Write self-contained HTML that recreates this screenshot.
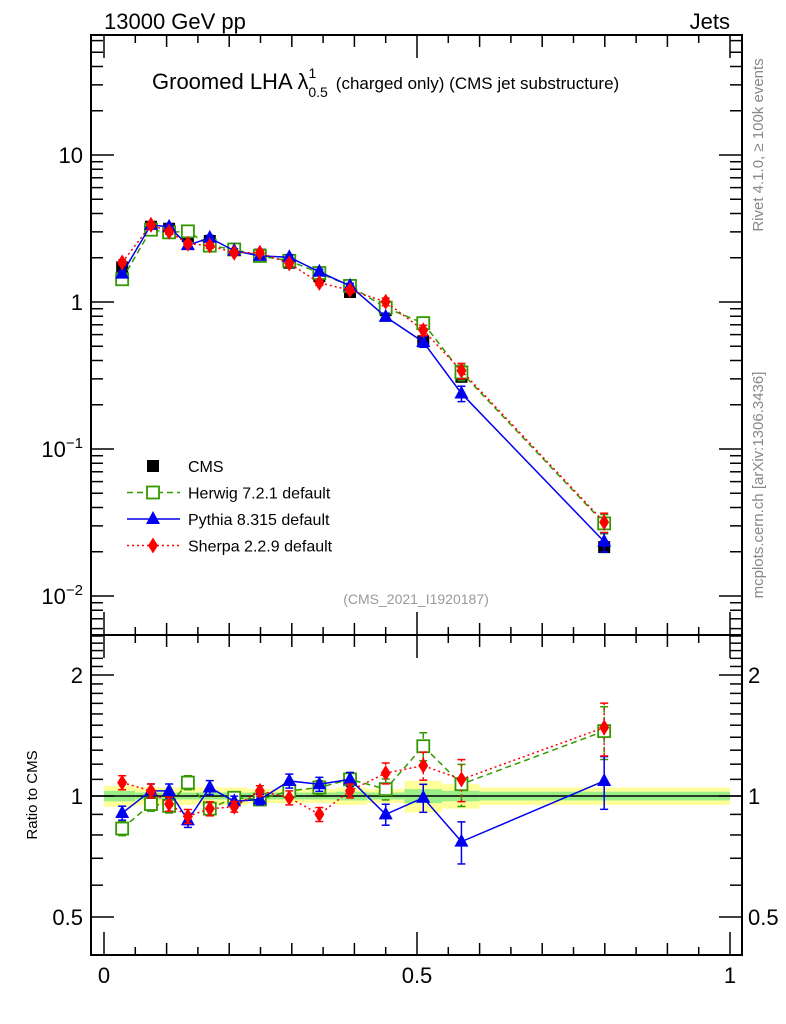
<!DOCTYPE html>
<html><head><meta charset="utf-8"><style>
body{margin:0;background:#fff;}
svg{display:block;font-family:"Liberation Sans",sans-serif;}
</style></head><body>
<svg id="c" width="786" height="1024" viewBox="0 0 786 1024" xmlns="http://www.w3.org/2000/svg"></svg>
<script>
const xCenters=[0.029,0.075,0.104,0.134,0.169,0.208,0.249,0.296,0.344,0.393,0.450,0.510,0.571,0.799];
const binEdges=[0.0,0.05,0.09,0.12,0.15,0.19,0.23,0.27,0.32,0.37,0.42,0.48,0.54,0.60,1.0];
const cmsVals=[1.72,3.25,3.15,2.8,2.6,2.3,2.1,1.85,1.5,1.17,0.88,0.54,0.31,0.0215];
const cmsBandIn=[0.03,0.02,0.02,0.02,0.02,0.02,0.02,0.02,0.02,0.025,0.02,0.04,0.03,0.025];
const cmsBandOut=[0.06,0.05,0.05,0.05,0.05,0.05,0.04,0.04,0.04,0.05,0.04,0.09,0.07,0.05];
const herwigRatio=[0.83,0.955,0.945,1.08,0.93,0.99,0.98,1.03,1.05,1.10,1.04,1.33,1.07,1.45];
const pythiaRatio=[0.907,1.03,1.03,0.87,1.05,0.97,0.98,1.09,1.07,1.10,0.90,0.99,0.77,1.09];
const sherpaRatio=[1.08,1.03,0.955,0.89,0.93,0.94,1.03,0.99,0.90,1.03,1.14,1.19,1.10,1.48];
const mcRelErr=[0.04,0.04,0.04,0.04,0.04,0.03,0.03,0.04,0.04,0.04,0.06,0.08,0.12,0.15];
const mainTicks=[0.01,0.1,1,10];
const ratioTicks=[0.5,1,2];
const xTicks=[0,0.5,1];

const svg=document.getElementById('c');
const NS='http://www.w3.org/2000/svg';
function mk(tag,attrs,parent){const e=document.createElementNS(NS,tag);for(const k in attrs)e.setAttribute(k,attrs[k]);(parent||svg).appendChild(e);return e;}
const L=91,R=742,T=35,M=635,B=955;
const X=v=>104+v*626;
const Y=v=>302-147*Math.log10(v);
const YR=v=>796-402*Math.log10(v);

const bandG=mk('g',{});


for(let i=0;i<cmsVals.length;i++){
  const x0=X(binEdges[i]),x1=X(binEdges[i+1]);
  mk('rect',{x:x0,y:YR(1+cmsBandOut[i]),width:x1-x0,height:YR(1-cmsBandOut[i])-YR(1+cmsBandOut[i]),fill:'#ffff99'},bandG);
  mk('rect',{x:x0,y:YR(1+cmsBandIn[i]),width:x1-x0,height:YR(1-cmsBandIn[i])-YR(1+cmsBandIn[i]),fill:'#99ee88'},bandG);
}
mk('line',{x1:L,x2:R,y1:YR(1),y2:YR(1),stroke:'#000','stroke-width':1.5});

const f1=mk('rect',{x:L,y:T,width:R-L,height:M-T,fill:'none',stroke:'#000','stroke-width':2});

const f2=mk('rect',{x:L,y:M,width:R-L,height:B-M,fill:'none',stroke:'#000','stroke-width':2});


function tick(x1,y1,x2,y2){mk('line',{x1,y1,x2,y2,stroke:'#000','stroke-width':1.5});}
for(let d=-3;d<=1;d++){for(let m=1;m<10;m++){const v=m*Math.pow(10,d);const y=Y(v);if(y<T||y>M)continue;const len=m==1?23:12;tick(L,y,L+len,y);tick(R,y,R-len,y);}}
mainTicks.forEach(v=>{
  const t=mk('text',{x:L-8,y:Y(v)+8,'text-anchor':'end','font-size':22});
  
  if(v==1)t.textContent='1';else if(v==10)t.textContent='10';else{
    t.textContent='10';const s=mk('tspan',{dy:-9,'font-size':15},t);s.textContent=(v==0.1?'−1':'−2');}
});
for(let k=4;k<=25;k++){const vv=k/10;const y=YR(vv);if(y<M||y>B)continue;const maj=(k==5||k==10||k==20);tick(L,y,L+(maj?23:12),y);tick(R,y,R-(maj?23:12),y);}
ratioTicks.forEach(v=>{
  const t=mk('text',{x:R+6,y:YR(v)+8,'font-size':22});
  
  t.textContent=String(v);
  const t2=mk('text',{x:L-8,y:YR(v)+8,'font-size':22,'text-anchor':'end'});
  
  t2.textContent=String(v);
});
for(let i=0;i<=20;i++){const v=i*0.05;const x=X(v);const maj=(i%10==0);const len=maj?23:(i%2==0?12:8);
  tick(x,T,x,T+len);tick(x,M,x,M-len);tick(x,M,x,M+len);tick(x,B,x,B-len);}
xTicks.forEach(v=>{
  const t=mk('text',{x:X(v),y:983,'text-anchor':'middle','font-size':22});
  
  t.textContent=String(v);
});

const series=[
 {name:'herwig',ratio:herwigRatio,color:'#339900',dash:'6,4',marker:'sq'},
 {name:'pythia',ratio:pythiaRatio,color:'#0000ee',dash:'',marker:'tri'},
 {name:'sherpa',ratio:sherpaRatio,color:'#ff0000',dash:'2,3',marker:'dia'}
];
function marker(type,x,y,color,g){
  if(type=='sq')mk('rect',{x:x-6,y:y-6,width:12,height:12,fill:'#fff',stroke:color,'stroke-width':1.8},g);
  else if(type=='tri')mk('polygon',{points:`${x},${y-8} ${x-7},${y+5} ${x+7},${y+5}`,fill:color},g);
  else if(type=='dia')mk('polygon',{points:`${x},${y-8} ${x-5},${y} ${x},${y+8} ${x+5},${y}`,fill:color},g);
  else mk('rect',{x:x-6,y:y-6,width:12,height:12,fill:'#000'},g);
}
const cg=mk('g',{});


xCenters.forEach((x,i)=>marker('cms',X(x),Y(cmsVals[i]),'#000',cg));
series.forEach(s=>{
  const g=mk('g',{});
  
  
  const mainPts=xCenters.map((x,i)=>[X(x),Y(cmsVals[i]*s.ratio[i])]);
  const rPts=xCenters.map((x,i)=>[X(x),YR(s.ratio[i])]);
  [mainPts,rPts].forEach(pts=>mk('polyline',{points:pts.map(p=>p.join(',')).join(' '),fill:'none',stroke:s.color,'stroke-width':1.5,'stroke-dasharray':s.dash},g));
  xCenters.forEach((x,i)=>{
    const v=cmsVals[i]*s.ratio[i],e=mcRelErr[i];
    const px=X(x);
    [[Y(v*(1+e)),Y(v*(1-e))],[YR(s.ratio[i]*(1+e)),YR(s.ratio[i]*(1-e))]].forEach(([a,b])=>{
      mk('line',{x1:px,x2:px,y1:a,y2:b,stroke:s.color,'stroke-width':1.5,'stroke-dasharray':s.dash},g);
      mk('line',{x1:px-4,x2:px+4,y1:a,y2:a,stroke:s.color,'stroke-width':1.5},g);
      mk('line',{x1:px-4,x2:px+4,y1:b,y2:b,stroke:s.color,'stroke-width':1.5},g);
    });
    marker(s.marker,px,Y(v),s.color,g);
    marker(s.marker,px,YR(s.ratio[i]),s.color,g);
  });
});

const leg=[['CMS','cms','#000',''],['Herwig 7.2.1 default','sq','#339900','6,4'],['Pythia 8.315 default','tri','#0000ee',''],['Sherpa 2.2.9 default','dia','#ff0000','2,3']];
leg.forEach((l,i)=>{
  const y=466+i*26.5;
  const g=mk('g',{});
  
  
  if(i>0)mk('line',{x1:127,x2:180,y1:y,y2:y,stroke:l[2],'stroke-width':1.5,'stroke-dasharray':l[3]},g);
  marker(l[1],153,y,l[2],g);
  const t=mk('text',{x:188,y:y+6,'font-size':16},g);t.textContent=l[0];
});

function txt(x,y,s,size,name,extra){const t=mk('text',Object.assign({x,y,'font-size':size},extra||{}));t.textContent=s;return t;}
txt(104,29,'13000 GeV pp',22,'energy-label');
txt(730,29,'Jets',22,'process-label',{'text-anchor':'end'});
const ti=txt(152,89,'Groomed LHA ',22,'plot-title');
const l1=mk('tspan',{},ti);l1.textContent='λ';
const sp=mk('tspan',{'font-size':14,dy:-11,dx:0},ti);sp.textContent='1';
const sb=mk('tspan',{'font-size':14,dy:19,dx:-8},ti);sb.textContent='0.5';
const rest=mk('tspan',{'font-size':17,dy:-8,dx:8},ti);rest.textContent='(charged only) (CMS jet substructure)';
txt(416,604,'(CMS_2021_I1920187)',14,'analysis-id',{'text-anchor':'middle',fill:'#999'});
txt(0,0,'Ratio to CMS',15,'ratio-y-axis-title',{transform:'translate(37,795) rotate(-90)','text-anchor':'middle'});
txt(0,0,'Rivet 4.1.0, ≥ 100k events',15,'rivet-version-label',{transform:'translate(763,145) rotate(-90)','text-anchor':'middle',fill:'#888'});
txt(0,0,'mcplots.cern.ch [arXiv:1306.3436]',15,'mcplots-label',{transform:'translate(763,485) rotate(-90)','text-anchor':'middle',fill:'#888'});
</script>
</body></html>
